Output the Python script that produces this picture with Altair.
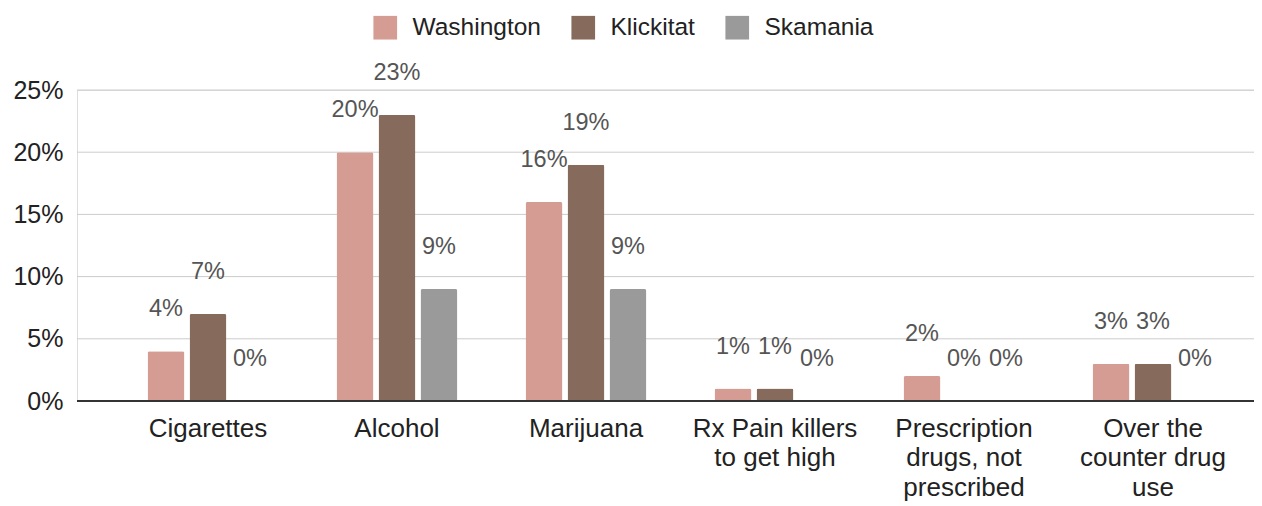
import altair as alt
import pandas as pd

categories = ["Cigarettes", "Alcohol", "Marijuana", "Rx Pain killers\nto get high",
              "Prescription\ndrugs, not\nprescribed", "Over the\ncounter drug\nuse"]
series = ["Washington", "Klickitat", "Skamania"]
washington = [4, 20, 16, 1, 2, 3]
klickitat = [7, 23, 19, 1, 0, 3]
skamania = [0, 9, 9, 0, 0, 0]
colors = ["#d49c93", "#866b5d", "#9a9a9a"]
y_ticks = [0, 0.05, 0.10, 0.15, 0.20, 0.25]

rows = []
for name, vals in zip(series, [washington, klickitat, skamania]):
    for c, v in zip(categories, vals):
        rows.append({"category": c, "series": name, "value": v / 100.0, "label": f"{v}%"})
df = pd.DataFrame(rows)
grid_df = pd.DataFrame({"v": y_ticks[1:]})
zero_df = pd.DataFrame({"v": [0]})

FONT = "Liberation Sans"
W = 1177

xscale = alt.Scale(range=[36.5, 1170.5], paddingInner=0.316, paddingOuter=0.158)
x = alt.X("category:N", sort=categories, title=None, scale=xscale,
          axis=alt.Axis(labelAngle=0, labelFontSize=26, labelColor="#222222", labelFont=FONT,
                        labelExpr="split(datum.label, '\\n')", labelLineHeight=29.5,
                        labelPadding=35, ticks=False, domain=False, grid=False,
                        labelBaseline="alphabetic"))
xo = alt.XOffset("series:N", sort=series,
                 scale=alt.Scale(paddingInner=0.12, paddingOuter=0.1))
yscale = alt.Scale(domain=[0, 0.25], nice=False)
y = alt.Y("value:Q", title=None, scale=yscale,
          axis=alt.Axis(format=".0%", values=y_ticks,
                        labelFontSize=25, labelColor="#222222", labelFont=FONT,
                        labelPadding=14, ticks=False, domain=False, grid=False))
color = alt.Color("series:N", sort=series,
                  scale=alt.Scale(domain=series, range=colors),
                  legend=alt.Legend(title=None, orient="none", direction="horizontal",
                                    legendX=296, legendY=-75, symbolType="square",
                                    symbolSize=560, symbolStrokeWidth=0, labelFontSize=24.5,
                                    labelFont=FONT, labelColor="#222222", labelOffset=15,
                                    columnPadding=30, symbolOpacity=1))

grid = alt.Chart(grid_df).mark_rule(color="#cccccc", strokeWidth=1).encode(
    y=alt.Y("v:Q", scale=yscale), x=alt.value(0), x2=alt.value(W))
base = alt.Chart(df)
bars = base.mark_bar(cornerRadiusTopLeft=2, cornerRadiusTopRight=2).encode(
    x=x, xOffset=xo, y=y, color=color)
texts = base.mark_text(fontSize=23.5, font=FONT, color="#555555", dy=-42, baseline="middle").encode(
    x=alt.X("category:N", sort=categories), xOffset=xo, y="value:Q", text="label:N")
baseline = alt.Chart(zero_df).mark_rule(color="#333333", strokeWidth=2).encode(
    y=alt.Y("v:Q", scale=yscale), x=alt.value(0), x2=alt.value(W))

chart = alt.layer(grid, bars, texts, baseline).properties(
    width=W, height=311,
    autosize=alt.AutoSizeParams(type="none"),
    padding={"left": 69, "top": 82, "right": 0, "bottom": 100},
).configure_view(stroke=None).configure(font=FONT)

chart.save("out.html", embed_options={"renderer": "svg", "actions": False})
